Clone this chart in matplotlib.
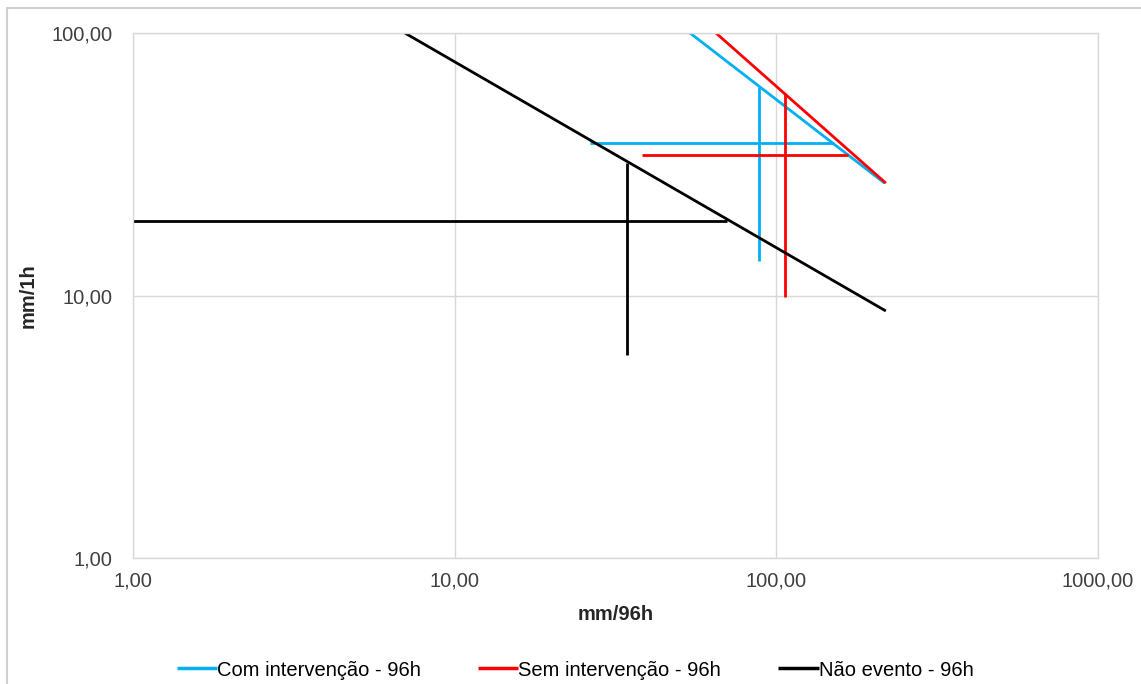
#曲线图：96h 累计雨量 vs 1h 雨强（对数坐标）
import matplotlib
matplotlib.use("Agg")
from matplotlib import pyplot as plt
from matplotlib.patches import Rectangle
from matplotlib.ticker import FixedLocator, FuncFormatter

plt.rcParams['font.family'] = ['Liberation Sans', 'DejaVu Sans']

#各系列名称与颜色
series_names = ["Com intervenção - 96h", "Sem intervenção - 96h", "Não evento - 96h"]
series_colors = ["#00B0F0", "#FF0000", "#000000"]

#斜线（起点、终点）
diag_x = [[53.9, 217.0], [64.9, 219.0], [7.0, 219.0]]
diag_y = [[100.0, 26.8], [100.0, 26.8], [100.0, 8.73]]

#水平线
horiz_x = [[26.3, 151.0], [38.2, 167.0], [1.0, 70.2]]
horiz_y = [38.0, 34.3, 19.2]

#竖直线
vert_x = [88.3, 106.3, 34.3]
vert_y = [[13.5, 62.2], [9.87, 59.1], [5.93, 32.0]]

x_ticks = [1, 10, 100, 1000]
y_ticks = [1, 10, 100]

fig = plt.figure(figsize=(11.41, 6.84), dpi=100)
ax = fig.add_axes([133/1141, 1-558/684, (1098-133)/1141, (558-33)/684])

lw = 2.0
for i in range(0, 3):
    c = series_colors[i]
    ax.plot(diag_x[i], diag_y[i], color=c, lw=lw, solid_capstyle='butt', label=series_names[i])
    ax.plot(horiz_x[i], [horiz_y[i], horiz_y[i]], color=c, lw=lw, solid_capstyle='butt')
    ax.plot([vert_x[i], vert_x[i]], vert_y[i], color=c, lw=lw, solid_capstyle='butt')

ax.set_xscale('log')
ax.set_yscale('log')
ax.set_xlim(1, 1000)
ax.set_ylim(1, 100)
ax.xaxis.set_major_locator(FixedLocator(x_ticks))
ax.yaxis.set_major_locator(FixedLocator(y_ticks))
ax.xaxis.set_minor_locator(FixedLocator([]))
ax.yaxis.set_minor_locator(FixedLocator([]))
fmt = FuncFormatter(lambda v, p: ("%.2f" % v).replace(".", ","))
ax.xaxis.set_major_formatter(fmt)
ax.yaxis.set_major_formatter(fmt)
ax.tick_params(length=0, labelsize=14.5, colors='#404040')
ax.tick_params(axis='x', pad=10)
ax.tick_params(axis='y', pad=15)
ax.grid(True, color='#d9d9d9', lw=1.0)
ax.set_axisbelow(True)
for s in ax.spines.values():
    s.set_color('#d9d9d9')
    s.set_linewidth(1.0)

ax.set_xlabel("mm/96h", fontsize=14.5, fontweight='bold', color='#262626', labelpad=10)
ax.set_ylabel("mm/1h", fontsize=14.5, fontweight='bold', color='#262626', labelpad=10)

leg = fig.legend(loc='center', bbox_to_anchor=(575/1141, 1-670/684), ncol=3, frameon=False,
                 fontsize=14.5, handlelength=2.0, handletextpad=0.0, columnspacing=2.85)
for h in leg.get_lines():
    h.set_linewidth(2.5)

#外边框
fig.patches.append(Rectangle((7/1141, -0.2), 1.2, 1.2 - 8/684, transform=fig.transFigure,
                             fill=False, edgecolor='#d0d0d0', lw=1.5))

plt.savefig("out.png", dpi=100)
